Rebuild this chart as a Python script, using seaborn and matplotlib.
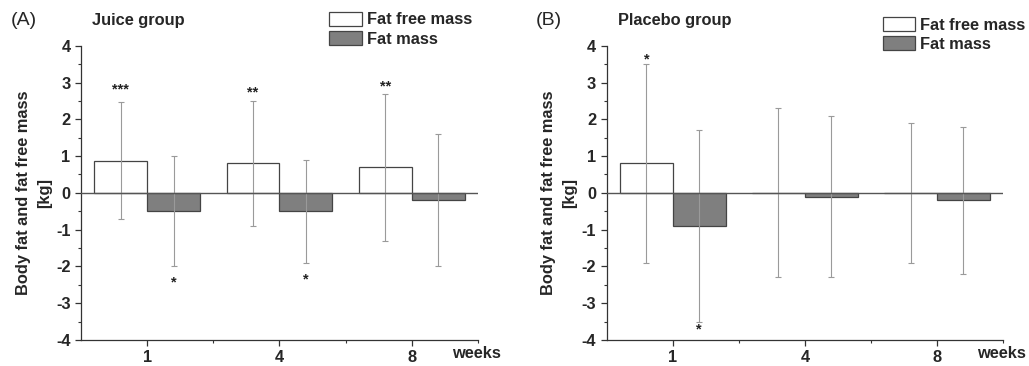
import matplotlib
matplotlib.use("Agg")
import matplotlib.pyplot as plt
from matplotlib.patches import Patch
from matplotlib.ticker import MultipleLocator
import seaborn as sns
import pandas as pd
import numpy as np

# data
weeks = ["1", "4", "8"]
series = ["Fat free mass", "Fat mass"]

juice_ffm = [0.88, 0.80, 0.70]
juice_ffm_sd = [1.60, 1.70, 2.00]
juice_fm = [-0.50, -0.50, -0.20]
juice_fm_sd = [1.50, 1.40, 1.80]

placebo_ffm = [0.80, 0.00, 0.00]
placebo_ffm_sd = [2.70, 2.30, 1.90]
placebo_fm = [-0.90, -0.10, -0.20]
placebo_fm_sd = [2.60, 2.20, 2.00]

# significance marks (label, centre y) per series and week
juice_ffm_sig = [("***", 2.85), ("**", 2.77), ("**", 2.93)]
juice_fm_sig = [("*", -2.39), ("*", -2.32), ("", 0)]
placebo_ffm_sig = [("*", 3.68), ("", 0), ("", 0)]
placebo_fm_sig = [("*", -3.68), ("", 0), ("", 0)]

colors = {"Fat free mass": "white", "Fat mass": "#7f7f7f"}
edge = "#444444"
fs = 11.8

sns.set_theme(style="ticks")
plt.rcParams["font.family"] = ["Liberation Sans", "DejaVu Sans"]
plt.rcParams["axes.unicode_minus"] = False


def make_df(ffm, fm):
    return pd.DataFrame({
        "week": weeks * 2,
        "series": [series[0]] * 3 + [series[1]] * 3,
        "value": ffm + fm,
    })


def draw_panel(ax, df, sds, sigs, letter, title, leg_x, leg_y):
    sns.barplot(data=df, x="week", y="value", hue="series", order=weeks,
                hue_order=series, palette=colors, saturation=1,
                errorbar=None, edgecolor=edge, linewidth=0.9,
                legend=False, ax=ax, zorder=2)
    for cont, sd, sig in zip(ax.containers, sds, sigs):
        xs = [b.get_x() + b.get_width() / 2 for b in cont]
        ys = [b.get_height() if b.get_y() == 0 else b.get_y() for b in cont]
        ax.errorbar(xs, ys, yerr=sd, fmt="none", ecolor="#9a9a9a",
                    elinewidth=0.8, capsize=2.5, capthick=0.8, zorder=3)
        for x, (lab, sy) in zip(xs, sig):
            if lab:
                ax.text(x, sy - 0.15, lab, ha="center", va="baseline",
                        fontsize=10.5, fontweight="bold", color="#222222")

    ax.axhline(0, color="#555555", lw=1.0, zorder=4)
    ax.set_ylim(-4, 4)
    ax.set_xlim(-0.5, 2.5)
    ax.yaxis.set_major_locator(MultipleLocator(1))
    ax.yaxis.set_minor_locator(MultipleLocator(0.5))
    ax.set_xticks([0, 1, 2])
    ax.set_xticks([0.5, 1.5, 2.5], minor=True)
    ax.set_xticklabels(weeks)
    ax.tick_params(axis="both", which="major", length=4, width=0.9,
                   labelsize=fs, pad=3.5, color="#333333")
    ax.tick_params(axis="both", which="minor", length=2, width=0.8,
                   color="#333333")
    for lab in ax.get_xticklabels() + ax.get_yticklabels():
        lab.set_fontweight("bold")
    ax.set_xlabel("")
    ax.set_ylabel("Body fat and fat free mass\n[kg]", fontsize=fs,
                  fontweight="bold", labelpad=3, linespacing=1.5)
    for s in ["top", "right"]:
        ax.spines[s].set_visible(False)
    for s in ["left", "bottom"]:
        ax.spines[s].set_color("#333333")
        ax.spines[s].set_linewidth(0.9)

    ax.text(0.995, -0.045, "weeks", transform=ax.transAxes, ha="center",
            va="center", fontsize=fs, fontweight="bold")
    ax.text(-0.145, 1.087, letter, transform=ax.transAxes, ha="center",
            va="center", fontsize=14)
    ax.text(0.028, 1.087, title, transform=ax.transAxes, ha="left",
            va="center", fontsize=fs, fontweight="bold")

    handles = [Patch(facecolor=colors[s], edgecolor=edge, linewidth=0.9,
                     label=s) for s in series]
    ax.legend(handles=handles, loc="upper left",
              bbox_to_anchor=(leg_x, leg_y), frameon=False,
              handlelength=2.0, handleheight=0.92, handletextpad=0.3,
              labelspacing=0.22, borderaxespad=0, borderpad=0,
              prop={"size": fs, "weight": "bold"})


fig = plt.figure(figsize=(10.29, 3.66), dpi=100)
ax1 = fig.add_axes([0.0787, 0.071, 0.3858, 0.804])
ax2 = fig.add_axes([0.5896, 0.071, 0.3851, 0.804])

draw_panel(ax1, make_df(juice_ffm, juice_fm), [juice_ffm_sd, juice_fm_sd],
           [juice_ffm_sig, juice_fm_sig], "(A)", "Juice group", 0.625, 1.115)
draw_panel(ax2, make_df(placebo_ffm, placebo_fm),
           [placebo_ffm_sd, placebo_fm_sd],
           [placebo_ffm_sig, placebo_fm_sig], "(B)", "Placebo group",
           0.696, 1.097)

fig.savefig("out.png", dpi=100)
